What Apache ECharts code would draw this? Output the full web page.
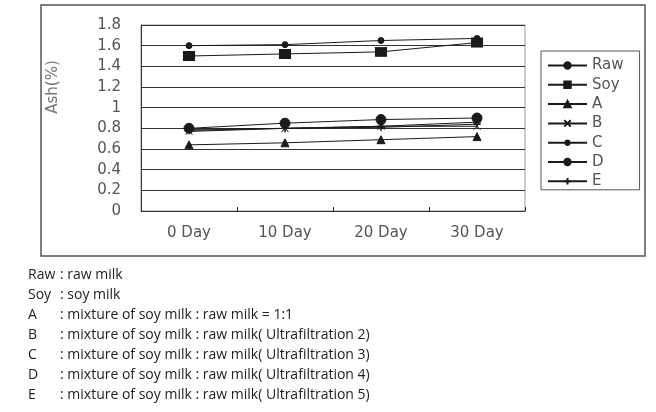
<!DOCTYPE html>
<html>
<head>
<meta charset="utf-8">
<script src="https://cdn.jsdelivr.net/npm/echarts@6/dist/echarts.min.js"></script>
<style>
  html, body { margin: 0; padding: 0; background: #fff; }
  #chart { width: 656px; height: 412px; }
</style>
</head>
<body>
<div id="chart"></div>
<script>
(function() {
    const days = ['0 Day', '10 Day', '20 Day', '30 Day'];
    const raw = [1.60, 1.61, 1.65, 1.67];
    const soy = [1.50, 1.52, 1.54, 1.63];
    const mixA = [0.64, 0.66, 0.69, 0.72];
    const mixB = [0.77, 0.80, 0.82, 0.82];
    const mixC = [0.78, 0.80, 0.82, 0.86];
    const mixD = [0.80, 0.85, 0.885, 0.90];
    const mixE = [0.79, 0.80, 0.81, 0.84];
    const noteCodes = ['Raw', 'Soy', 'A', 'B', 'C', 'D', 'E'];
    const noteTexts = [
      ': raw milk',
      ': soy milk',
      ': mixture of soy milk : raw milk = 1:1',
      ': mixture of soy milk : raw milk( Ultrafiltration 2)',
      ': mixture of soy milk : raw milk( Ultrafiltration 3)',
      ': mixture of soy milk : raw milk( Ultrafiltration 4)',
      ': mixture of soy milk : raw milk( Ultrafiltration 5)'
    ];

    const chart = echarts.init(document.getElementById('chart'));
    const ink = '#1a1a1a';
    const font = 'DejaVu Sans';

    function line(name, data, symbol, size) {
      return {
        name: name,
        type: 'line',
        data: data,
        symbol: symbol,
        symbolSize: size,
        showSymbol: true,
        lineStyle: { width: 1, color: ink },
        itemStyle: { color: ink, borderColor: ink, borderWidth: 1 },
        emphasis: { disabled: true }
      };
    }

    // footnote lines below the frame
    const notes = [];
    noteCodes.forEach((code, i) => {
      const y = 277 + i * 20;
      notes.push({
        type: 'text', left: 28, top: y - 9,
        style: { text: code, fill: '#222', font: '14px "Open Sans"' }
      });
      notes.push({
        type: 'text', left: 60, top: y - 9,
        style: { text: noteTexts[i], fill: '#222', font: '14px "Open Sans"' }
      });
    });

    const option = {
      animation: false,
      grid: {
        left: 141,
        right: 131,
        top: 25,
        bottom: 201,
        show: true,
        borderColor: '#999',
        borderWidth: 1
      },
      legend: {
        orient: 'vertical',
        left: 541,
        top: 51,
        padding: [7, 16, 1, 6],
        itemWidth: 39,
        itemHeight: 8,
        itemGap: 4.3,
        borderColor: '#555',
        borderWidth: 1,
        textStyle: { fontSize: 15, color: '#555', fontFamily: font },
        data: ['Raw', 'Soy', 'A', 'B', 'C', 'D', 'E']
      },
      xAxis: {
        type: 'category',
        data: days,
        boundaryGap: true,
        axisLine: { lineStyle: { color: '#333', width: 1 } },
        axisTick: { show: true, inside: true, length: 4, interval: 0, lineStyle: { color: '#333' } },
        axisLabel: { fontSize: 15, color: '#555', fontFamily: font, margin: 15 },
        splitLine: { show: false }
      },
      yAxis: {
        type: 'value',
        min: 0,
        max: 1.8,
        interval: 0.2,
        axisLine: { show: true, lineStyle: { color: '#333', width: 1 } },
        axisTick: { show: false },
        axisLabel: { fontSize: 15, color: '#555', fontFamily: font, margin: 20 },
        splitLine: { lineStyle: { color: '#333', width: 1 } }
      },
      graphic: [
        {
          type: 'rect',
          shape: { x: 41, y: 5, width: 604, height: 251 },
          style: { fill: 'none', stroke: '#555', lineWidth: 1.5 },
          silent: true
        },
        {
          type: 'text',
          x: 53, y: 87,
          rotation: Math.PI / 2,
          style: {
            text: 'Ash(%)', fill: '#777', font: '15px "DejaVu Sans"',
            align: 'center', verticalAlign: 'middle'
          }
        }
      ].concat(notes),
      series: [
        line('Raw', raw, 'circle', 6),
        line('Soy', soy, 'rect', [11, 9]),
        line('A', mixA, 'triangle', 8),
        line('B', mixB, 'path://M0,0L10,10M10,0L0,10', 7),
        line('C', mixC, 'path://M5,0L5,10M0,5L10,5M1.5,1.5L8.5,8.5M8.5,1.5L1.5,8.5', 8),
        line('D', mixD, 'circle', 10),
        line('E', mixE, 'path://M5,0L5,10M0,5L10,5', 8)
      ]
    };

    chart.setOption(option);
    window.addEventListener('resize', () => chart.resize());
})();
</script>
</body>
</html>
